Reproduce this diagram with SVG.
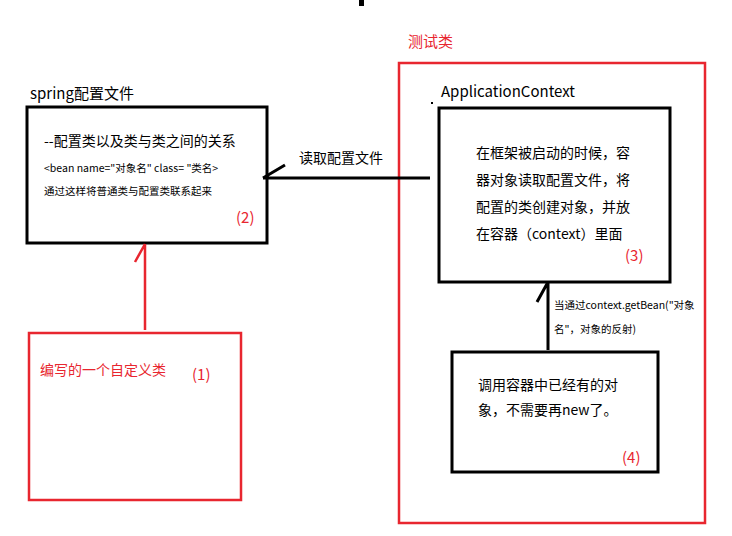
<svg xmlns="http://www.w3.org/2000/svg" width="732" height="536" viewBox="0 0 732 536">
<style>
text{font-family:"Microsoft YaHei","Noto Sans CJK SC",sans-serif;fill:#000}
.k{fill:#fff;stroke:#000;stroke-width:3}
.r{fill:none;stroke:#e8262f;stroke-width:2.5}
.red{fill:#e8262f}
</style>
<rect width="732" height="536" fill="#fff"/>
<rect x="359" y="0" width="5" height="6" fill="#000"/>
<rect x="431" y="102" width="2" height="2" fill="#000"/>
<text x="408" y="47" font-size="15" class="red">测试类</text>
<g id="spring">
<text x="30" y="99" font-size="15">spring配置文件</text>
<rect class="k" x="27" y="107" width="240" height="136"/>
<text x="44" y="146" font-size="14">--配置类以及类与类之间的关系</text>
<text x="44" y="172" font-size="10.5">&lt;bean name="对象名" class=  "类名&gt;</text>
<text x="44" y="195" font-size="10.5">通过这样将普通类与配置类联系起来</text>
<text x="236" y="223" font-size="15" class="red">(2)</text>
</g>
<g id="custom">
<rect class="r" x="29" y="333" width="212" height="167"/>
<text x="40" y="375" font-size="14" class="red">编写的一个自定义类</text>
<text x="192" y="380" font-size="15" class="red">(1)</text>
</g>
<g id="test">
<rect class="r" x="399" y="63" width="306" height="460"/>
</g>
<g id="context">
<text x="441" y="97" font-size="15">ApplicationContext</text>
<rect class="k" x="439" y="108" width="231" height="174"/>
<text x="476" y="158" font-size="14">在框架被启动的时候，容</text>
<text x="476" y="185" font-size="14">器对象读取配置文件，将</text>
<text x="476" y="212" font-size="14">配置的类创建对象，并放</text>
<text x="476" y="239" font-size="14">在容器（context）里面</text>
<text x="625" y="261" font-size="15" class="red">(3)</text>
</g>
<g id="box4">
<rect class="k" x="452" y="352" width="206" height="120"/>
<text x="478" y="390" font-size="14">调用容器中已经有的对</text>
<text x="478" y="415" font-size="14">象，不需要再new了。</text>
<text x="622" y="463" font-size="15" class="red">(4)</text>
</g>
<g id="connectors" fill="none" stroke-width="3">
<path d="M430 178H263M263 178L285 165" stroke="#000"/>
<path d="M145 330V244M145 244L135 262" stroke="#e8262f" stroke-width="2.5"/>
<path d="M548 350V282M548 282L537 302" stroke="#000"/>
</g>
<text x="299" y="163" font-size="14">读取配置文件</text>
<text x="554" y="309" font-size="10.5">当通过context.getBean("对象</text>
<text x="554" y="333" font-size="10.5">名"，对象的反射)</text>
</svg>
